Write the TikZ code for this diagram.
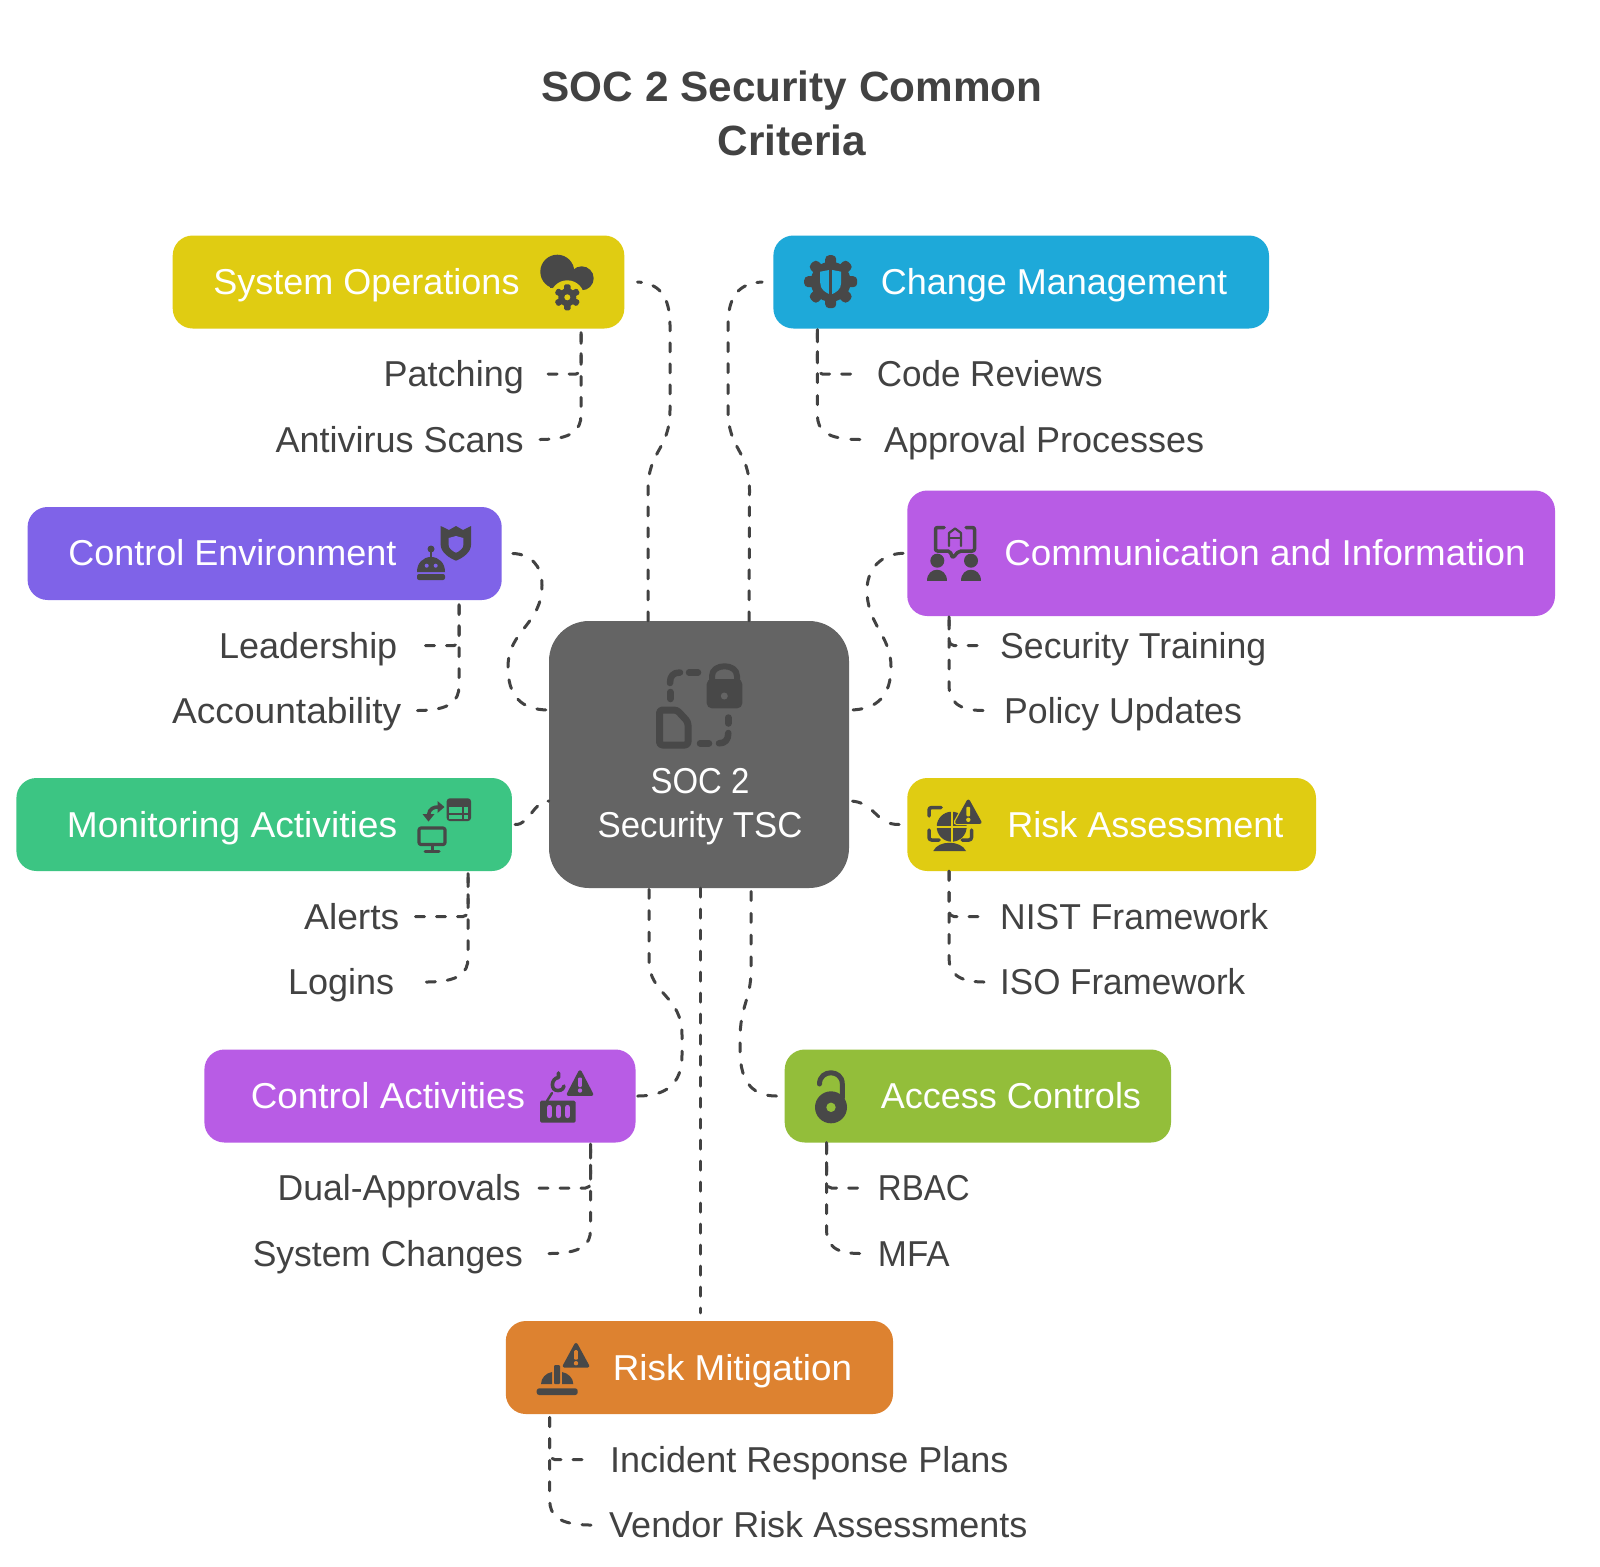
\documentclass[tikz,border=0pt]{standalone}
\usepackage{fontspec}
\setmainfont{Liberation Sans}
\definecolor{ink}{HTML}{424242}
\definecolor{ic}{HTML}{484848}
\definecolor{cyellow}{HTML}{E0CC12}
\definecolor{cblue}{HTML}{1EA9D9}
\definecolor{cpurple}{HTML}{7F63E8}
\definecolor{cviolet}{HTML}{B85CE5}
\definecolor{cgreen}{HTML}{3CC583}
\definecolor{colive}{HTML}{93BE3A}
\definecolor{corange}{HTML}{DD8230}
\definecolor{cgrey}{HTML}{646464}
\tikzset{
  boxn/.style={rounded corners=20pt,draw=none,inner sep=0pt},
  hd/.style={text=white,inner sep=0pt,font=\fontsize{36}{44}\selectfont,text height=25pt,text depth=0pt},
  leaf/.style={text=ink,inner sep=0pt,font=\fontsize{36}{44}\selectfont,text height=25pt,text depth=0pt},
  conn/.style={draw=ink,line width=3pt,line cap=round,dash pattern=on 9pt off 12pt},
  connoff/.style={conn,dash pattern=on 9pt off #1pt},
  twig/.style={conn,rounded corners=5pt},
  ics/.style={draw=ic,line cap=round,line join=round},
}
\newcommand\sx[2]{\scalebox{#1}[1]{#2}}
\newcommand\bx[6]{\node[boxn,fill=#6,minimum width={(#4-#2)*1pt},minimum height={(#5-#3)*1pt}] (#1) at ({(#2+#4)/2-1},{(#3+#5)/2}) {};}
% warning triangle: apex x, apex y, base y, mark colour
\newcommand\warnicon[4]{%
  \draw[ics,fill=ic,line width=3.5pt] (#1,#2+2) -- (#1+11.5,#3-1.8) -- (#1-11.5,#3-1.8) -- cycle;
  \fill[#4,rounded corners=1pt] (#1-1.9,#2+7.5) rectangle (#1+1.9,#2+17);
  \fill[#4] (#1,#2+20.5) circle[radius=2.2];
}
\begin{document}
\begin{tikzpicture}[x=1pt,y=-1pt]
\path[use as bounding box,fill=white] (0,0) rectangle (1600,1566);

% boxes
\bx{sysops}{173.7}{235.5}{625.3}{328.5}{cyellow}
\bx{change}{774.4}{235.5}{1270}{328.5}{cblue}
\bx{ctrlenv}{28.6}{507}{502.7}{600}{cpurple}
\bx{comm}{908.3}{490.5}{1556}{616}{cviolet}
\bx{monit}{17.4}{778}{512.9}{871}{cgreen}
\bx{riskas}{908.3}{778}{1317}{871}{cyellow}
\bx{ctrlact}{205.4}{1049.5}{636.5}{1142.5}{cviolet}
\bx{access}{785.7}{1049.5}{1172}{1142.5}{colive}
\bx{riskmit}{506.8}{1321}{894}{1414}{corange}
\node[boxn,rounded corners=40pt,fill=cgrey,minimum width=300pt,minimum height=267pt] (center) at (699,754.5) {};

% title
\node[text=ink,align=center,inner sep=0pt,font=\fontsize{42.3}{54}\selectfont\bfseries] (title) at (792,113.5) {SOC 2 Security Common\\Criteria};

% box labels
\node[hd] (tsys) at (366.5,281.5) {System Operations};
\node[hd] (tchg) at (1054,281.5) {Change Management};
\node[hd] (tenv) at (232.5,553) {Control Environment};
\node[hd] (tcom) at (1265,553) {\sx{1.022}{Communication and Information}};
\node[hd] (tmon) at (232,824.5) {\sx{1.032}{Monitoring Activities}};
\node[hd] (tras) at (1145.5,824.5) {Risk Assessment};
\node[hd] (tact) at (388,1096) {\sx{1.023}{Control Activities}};
\node[hd] (tacc) at (1011,1096) {Access Controls};
\node[hd] (trm) at (732.5,1367.5) {\sx{1.022}{Risk Mitigation}};
\node[hd] (tc1) at (700,780.5) {\sx{0.914}{SOC 2}};
\node[hd] (tc2) at (700,825) {\sx{0.966}{Security TSC}};

% leaves
\node[leaf,anchor=east] (patch) at (524,374) {Patching};
\node[leaf,anchor=east] (anti) at (524,439.5) {Antivirus Scans};
\node[leaf,anchor=east] (lead) at (397.5,645.5) {Leadership};
\node[leaf,anchor=east] (acct) at (401.5,710.5) {\sx{1.032}{Accountability}};
\node[leaf,anchor=east] (alert) at (399.5,916.5) {\sx{1.033}{Alerts}};
\node[leaf,anchor=east] (logins) at (394.4,982) {Logins};
\node[leaf,anchor=east] (dual) at (521,1188) {\sx{0.988}{Dual-Approvals}};
\node[leaf,anchor=east] (sysch) at (523,1253.5) {\sx{0.985}{System Changes}};
\node[leaf,anchor=west] (code) at (876.6,374) {\sx{0.973}{Code Reviews}};
\node[leaf,anchor=west] (appr) at (883.8,439.5) {Approval Processes};
\node[leaf,anchor=west] (train) at (1000,645.5) {\sx{0.99}{Security Training}};
\node[leaf,anchor=west] (policy) at (1004,710.5) {\sx{0.99}{Policy Updates}};
\node[leaf,anchor=west] (nist) at (1000,916.5) {\sx{0.985}{NIST Framework}};
\node[leaf,anchor=west] (iso) at (1000,982) {\sx{0.972}{ISO Framework}};
\node[leaf,anchor=west] (rbac) at (877.7,1188) {\sx{0.918}{RBAC}};
\node[leaf,anchor=west] (mfa) at (877.7,1253.5) {\sx{0.97}{MFA}};
\node[leaf,anchor=west] (incid) at (610,1459.5) {Incident Response Plans};
\node[leaf,anchor=west] (vendor) at (609,1525) {Vendor Risk Assessments};

% main connectors
\draw[conn] ([xshift=-51pt]center.north) -- (648,490) .. controls (648,450) and (670,450) .. (670,410) -- (670,325) .. controls (670,295) and (658,283) .. ([xshift=13pt]sysops.east);
\draw[conn] ([xshift=50pt]center.north) -- (749.5,490) .. controls (749.5,450) and (728,450) .. (728,410) -- (728,325) .. controls (728,295) and (740,283) .. ([xshift=-11pt]change.west);
\draw[connoff=12.7] ([xshift=11pt]ctrlenv.east) .. controls (530,554) and (542,565) .. (542,585) .. controls (542,625) and (508,630) .. (508,667) .. controls (508,695) and (520,710) .. (center.west |- 0,710);
\draw[connoff=12.7] ([xshift=-4pt]comm.west) .. controls (880,554) and (867,570) .. (867,590) .. controls (867,625) and (891,635) .. (891,667) .. controls (891,695) and (878,710) .. (center.east |- 0,710);
\draw[conn] ([xshift=3pt]monit.east) .. controls (530,825) and (533,801) .. (center.west |- 0,801);
\draw[connoff=13.3] ([xshift=-8pt]riskas.west) .. controls (875,825) and (875,801) .. (center.east |- 0,801);
\draw[connoff=12.4] ([xshift=2pt]ctrlact.east) .. controls (665,1096) and (682,1085) .. (682,1055) -- (682,1035) .. controls (682,995) and (649,995) .. (649,960) -- ([xshift=-50pt]center.south);
\draw[connoff=12.8] ([xshift=-8pt]access.west) .. controls (755,1096) and (740,1085) .. (740,1050) -- (740,1040) .. controls (740,1005) and (751,1000) .. (751,970) -- ([xshift=52pt]center.south);
\draw[conn] ([xshift=1pt]center.south) -- ([yshift=8pt,xshift=0.6pt]riskmit.north);

% twigs
\draw[twig] ([xshift=24pt]patch.east) -- (581,374) -- (581,328.5);
\draw[conn] ([xshift=16pt]anti.east) .. controls (572,439.5) and (581,430) .. (581,415) -- (581,328.5);
\draw[twig] ([xshift=28pt]lead.east) -- (459,645.5) -- (459,600);
\draw[conn] ([xshift=16pt]acct.east) .. controls (450,710.5) and (459,701) .. (459,686) -- (459,600);
\draw[twig] ([xshift=16pt]alert.east) -- (468,916.5) -- (468,871);
\draw[conn] ([xshift=32pt]logins.east) .. controls (459,982) and (468,973) .. (468,958) -- (468,871);
\draw[twig] ([xshift=18pt]dual.east) -- (590.5,1188) -- (590.5,1142.5);
\draw[conn] ([xshift=26pt]sysch.east) .. controls (581,1253.5) and (590.5,1245) .. (590.5,1230) -- (590.5,1142.5);
\draw[twig] ([xshift=-26pt]code.west) -- (817.4,374) -- (817.4,328.5);
\draw[connoff=13] ([xshift=-24pt]appr.west) .. controls (826,439.5) and (817.4,430) .. (817.4,415) -- (817.4,328.5);
\draw[twig] ([xshift=-23pt]train.west) -- (949,645.5) -- (949,616);
\draw[connoff=12.6] ([xshift=-21pt]policy.west) .. controls (958,710.5) and (949,701) .. (949,686) -- (949,616);
\draw[twig] ([xshift=-22pt]nist.west) -- (949,916.5) -- (949,871);
\draw[conn] ([xshift=-16pt]iso.west) .. controls (958,982) and (949,973) .. (949,958) -- (949,871);
\draw[twig] ([xshift=-20pt]rbac.west) -- (826.5,1188) -- (826.5,1142.5);
\draw[conn] ([xshift=-18pt]mfa.west) .. controls (835,1253.5) and (826.5,1245) .. (826.5,1230) -- (826.5,1142.5);
\draw[twig] ([xshift=-28pt]incid.west) -- (549.7,1459.5) -- (549.7,1414);
\draw[connoff=12.4] ([xshift=-18pt]vendor.west) .. controls (558,1525) and (549.7,1515) .. (549.7,1500) -- (549.7,1414);

% icon: system operations
\fill[ic] (557.3,271.7) circle[radius=17];
\fill[ic] (581.7,278.3) circle[radius=12];
\fill[ic] (550,278) rectangle (580,288);
\begin{scope}[shift={(567.3,297.3)}]
  \fill[cyellow] (0,0) circle[radius=17];
  \fill[ic] (0,0) circle[radius=9];
  \foreach \a in {0,60,...,300} {\fill[ic,rotate=\a,rounded corners=1.5pt] (-3.2,-13) rectangle (3.2,-6);}
  \fill[cyellow] (0,0) circle[radius=3];
\end{scope}

% icon: change management
\begin{scope}[shift={(830.7,281.7)}]
  \fill[ic] (0,0) circle[radius=20];
  \foreach \a in {0,45,...,315} {\fill[ic,rotate=\a,rounded corners=4pt] (-5.5,-26.5) rectangle (5.5,-14);}
  \fill[cblue] (-10.5,-10) -- (0,-12) -- (10.5,-10) -- (10.5,1) .. controls (10.5,8) and (5,11) .. (0,13) .. controls (-5,11) and (-10.5,8) .. (-10.5,1) -- cycle;
  \fill[ic] (-1.3,-13) rectangle (1.3,14);
\end{scope}

% icon: control environment
\fill[ic] (440.7,526) -- (449,530) -- (456,526) -- (463,530) -- (471,526) -- (471,545) .. controls (471,552) and (463,558) .. (456,560.7) .. controls (449,558) and (440.7,552) .. (440.7,545) -- cycle;
\fill[cpurple] (448.7,538) -- (456,536) -- (463.3,538) -- (463.3,545) .. controls (463.3,548) and (460,551) .. (456,552.7) .. controls (452,551) and (448.7,548) .. (448.7,545) -- cycle;
\fill[ic] (417,572) .. controls (417,563) and (423,557) .. (431,557) .. controls (439,557) and (445,563) .. (445,572) -- cycle;
\fill[ic,rounded corners=2pt] (417,574) rectangle (445,580);
\draw[ics,line width=2pt] (431,557) -- (431,549);
\fill[ic] (431,549) circle[radius=3.5];
\fill[cpurple] (426.7,565.7) circle[radius=2];
\fill[cpurple] (435.7,565.7) circle[radius=2];

% icon: communication
\fill[ic] (937.3,560.7) circle[radius=7];
\fill[ic] (971,560.7) circle[radius=7];
\fill[ic] (927.3,581) .. controls (927.3,566) and (947.3,566) .. (947.3,581) -- cycle;
\fill[ic] (961,581) .. controls (961,566) and (981,566) .. (981,581) -- cycle;
\draw[ics,line width=3.5pt,rounded corners=2pt] (944,527.5) -- (935.5,527.5) -- (935.5,551) -- (950,551) -- (952.5,558) -- (959,551) -- (974.5,551) -- (974.5,527.5) -- (966,527.5);
\draw[ics,line width=2.2pt] (949,546) -- (949,533) -- (955,528.5) -- (961,533) -- (961,546);
\draw[ics,line width=2.2pt] (949,538) -- (961,538);

% icon: monitoring
\fill[ic,rounded corners=3pt] (446.7,798.3) rectangle (471,821);
\fill[cgreen] (449.3,806.7) rectangle (461.7,812.7);
\fill[cgreen] (464,806.7) rectangle (468.3,812.7);
\fill[cgreen] (449.3,815) rectangle (461.7,819);
\fill[cgreen] (464,815) rectangle (468.3,819);
\draw[ic,line width=3.5pt] (428.5,815) .. controls (429,808.5) and (434,807) .. (438,807);
\fill[ic] (437.5,801) -- (444.5,807) -- (437.5,813) -- cycle;
\fill[ic] (422.5,814) -- (434.5,814) -- (428.5,821.5) -- cycle;
\draw[ics,line width=3.2pt,rounded corners=2pt] (419,828) rectangle (445,844.5);
\draw[ics,line width=3pt] (432,845) -- (432,851);
\draw[ics,line width=3pt] (425,851) -- (439,851);

% icon: risk assessment
\fill[ic] (951.7,826.7) circle[radius=15];
\draw[cyellow,line width=1.8pt] (936,826.7) -- (967,826.7);
\draw[cyellow,line width=1.8pt] (951.7,811) -- (951.7,842);
\draw[cyellow,line width=6pt,line join=round,fill=cyellow] (968.3,801.3) -- (979.8,822.2) -- (956.8,822.2) -- cycle;
\warnicon{968.3}{799.3}{824}{cyellow}
\draw[ics,line width=3.5pt,rounded corners=2.5pt] (929,816) -- (929,807.5) -- (941,807.5);
\draw[ics,line width=3.5pt,rounded corners=2.5pt] (929,830) -- (929,840) -- (939,840);
\draw[ics,line width=3.5pt,rounded corners=2.5pt] (971.5,830) -- (971.5,840) -- (962,840);
\fill[ic] (933.3,851) .. controls (938,840) and (961,840) .. (966,851) -- cycle;

% icon: control activities
\warnicon{580}{1070}{1096}{cviolet}
\draw[ics,line width=3.6pt] (558.5,1073) -- (558.5,1077.5) .. controls (551,1078) and (550,1091) .. (558,1090.5) .. controls (562,1090.5) and (564,1088) .. (564,1086);
\draw[ics,line width=2.4pt] (552,1093) -- (547,1101);
\fill[ic,rounded corners=1.5pt] (540,1100.7) rectangle (575.7,1122.7);
\foreach \x in {549.5,558.5,567.5} {\fill[cviolet,rounded corners=2pt] (\x-2.3,1105) rectangle (\x+2.3,1118);}

% icon: access controls
\fill[ic] (831,1107.3) circle[radius=16];
\fill[colive] (831,1107.3) circle[radius=4.7];
\draw[ics,line width=5pt] (819.5,1084) .. controls (819.5,1069) and (842.3,1069) .. (842.3,1084) -- (842.3,1098);

% icon: risk mitigation
\warnicon{576}{1342.7}{1367.7}{corange}
\fill[ic] (541,1384) .. controls (541,1378) and (546,1373) .. (552,1372) -- (552,1384) -- cycle;
\fill[ic,rounded corners=1pt] (554,1365) rectangle (560,1384);
\fill[ic] (562,1372) .. controls (568,1373) and (573.3,1378) .. (573.3,1384) -- (562,1384) -- cycle;
\fill[ic,rounded corners=2.5pt] (536.7,1388.3) rectangle (577.7,1395);

% icon: centre
\draw[ics,line width=7pt,fill=none,rounded corners=3pt] (659.5,710) -- (677,710) -- (688,722) -- (688,745) -- (659.5,745) -- cycle;
\fill[ic,rounded corners=5pt] (706.7,679) rectangle (742.3,708.3);
\draw[ics,line width=6pt,line cap=butt] (712,680) -- (712,676) .. controls (712,663) and (737,663) .. (737,676) -- (737,680);
\fill[cgrey] (724.3,696) circle[radius=3.5];
\draw[ics,line width=6.5pt] (670,683) .. controls (670,676) and (673,672.5) .. (680,672.5);
\draw[ics,line width=6.5pt] (689,672.5) -- (698,672.5);
\draw[ics,line width=6.5pt] (670.3,692) -- (670.3,699);
\draw[ics,line width=6.5pt] (728.3,717.5) -- (728.3,723.5);
\draw[ics,line width=6.5pt] (728.3,733) .. controls (728.3,740) and (725,743.3) .. (719,743.3);
\draw[ics,line width=6.5pt] (700,743.3) -- (709,743.3);
\end{tikzpicture}
\end{document}
